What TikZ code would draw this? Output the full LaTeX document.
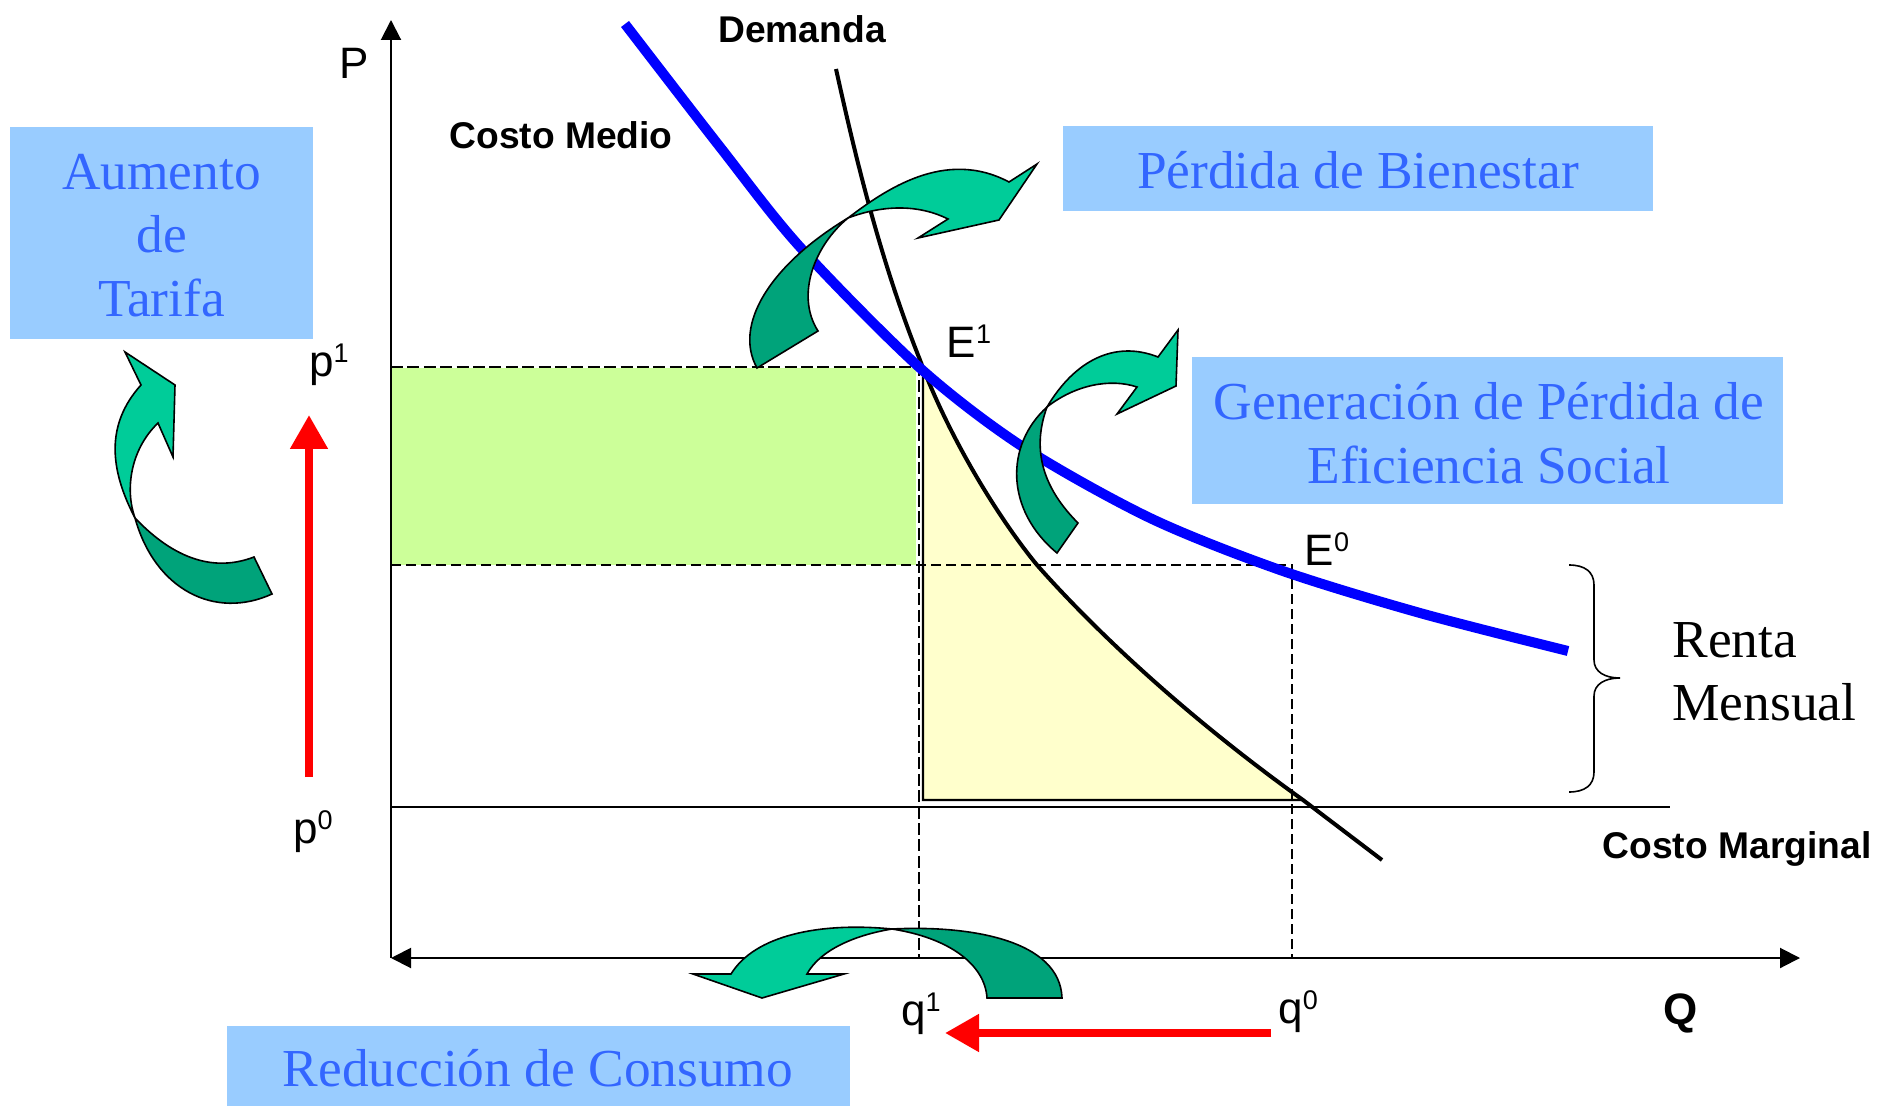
\documentclass[tikz,border=0pt]{standalone}
\usepackage{fontspec}
\setmainfont{Liberation Serif}
\setsansfont{Liberation Sans}
\usetikzlibrary{arrows.meta}

\definecolor{boxblue}{RGB}{153,204,255}
\definecolor{textblue}{RGB}{51,102,255}
\definecolor{lightarrow}{RGB}{0,204,153}
\definecolor{darkarrow}{RGB}{0,163,122}
\definecolor{surplus}{RGB}{204,255,153}
\definecolor{loss}{RGB}{255,255,204}

\newcommand{\expo}[1]{\raisebox{7pt}{\fontsize{13.5}{13.5}\selectfont #1}}

\tikzset{
	infotext/.style={text=textblue, font=\fontsize{26.7}{31.7}\selectfont, align=center, inner sep=0pt},
	axislabel/.style={font=\sffamily\fontsize{22}{26}\selectfont, inner sep=0pt},
	curvename/.style={font=\sffamily\bfseries\fontsize{18.6}{22}\selectfont, inner sep=0pt},
	guidethick/.style={line width=1.2pt, dash pattern=on 6pt off 2.2pt},
	guidethin/.style={line width=0.8pt, dash pattern=on 5pt off 2.5pt},
	redarrow/.style={red, line width=4pt, -{Triangle[length=17pt,width=18pt]}},
	bendlight/.style={fill=lightarrow, draw=black, line width=0.8pt, line join=miter},
	benddark/.style={fill=darkarrow, draw=black, line width=0.8pt, line join=miter}
}

\begin{document}
\begin{tikzpicture}[x=0.5pt,y=-0.5pt]
	\useasboundingbox (0,0) rectangle (1877,1106);

	\coordinate (origin) at (391,958);
	\coordinate (ytop) at (391,20);
	\coordinate (xend) at (1800,958);
	\coordinate (mcleft) at (391,807);
	\coordinate (mcright) at (1670,807);
	\coordinate (p1left) at (391,367);
	\coordinate (p0left) at (391,565);
	\coordinate (E1) at (919,367);
	\coordinate (E0) at (1292,565);
	\coordinate (q1low) at (919,958);
	\coordinate (q0low) at (1292,958);

	% shaded areas
	\fill[surplus] (391,368) rectangle (916,565);
	\draw[fill=loss, line width=1.2pt] (923,368) -- (923,800) -- (1303,800)
		.. controls (1180,712) and (1090,625) .. (1037,565)
		.. controls (1000,520) and (950,440) .. (920,360) -- cycle;

	% text boxes
	\fill[boxblue] (10,127) rectangle (313,339);
	\fill[boxblue] (1063,126) rectangle (1653,211);
	\fill[boxblue] (1192,357) rectangle (1783,504);
	\fill[boxblue] (227,1026) rectangle (850,1106);
	\node[infotext] (tarifa) at (161.5,235.4) {Aumento\\de\\Tarifa};
	\node[infotext] (bienestar) at (1358,170) {Pérdida de Bienestar};
	\node[infotext] (eficiencia) at (1489,433) {Generación de Pérdida de\\Eficiencia Social};
	\node[infotext] (consumo) at (538,1068.4) {Reducción de Consumo};

	% axes
	\draw[line width=1pt, -{Triangle[length=10pt,width=10pt]}] (origin) -- (ytop);
	\draw[line width=1pt, {Triangle[length=10pt,width=10pt]}-{Triangle[length=10pt,width=10pt]}] (origin) -- (xend);
	\draw[line width=1pt] (mcleft) -- (mcright);
	\draw[guidethick] (p1left) -- (E1) -- (q1low);
	\draw[guidethin] (p0left) -- (E0) -- (q0low);

	% curves
	\draw[line width=2pt] (836,69) .. controls (855,155) and (880,260) .. (920,360)
		.. controls (950,440) and (1000,520) .. (1037,565)
		.. controls (1090,625) and (1180,712) .. (1303,800) -- (1382,860);
	\draw[blue, line width=5pt] plot[smooth] coordinates {(625,24) (720,147) (800,247) (920,368) (1023,447) (1150,518) (1280,570) (1420,613) (1568,651)};

	% bent arrows
	\draw[benddark] (757,368) .. controls (733,325) and (770,265) .. (848,218)
		.. controls (815,245) and (795,295) .. (818,331) -- cycle;
	\draw[bendlight] (848,218) .. controls (885,190) and (945,148) .. (1009,182)
		-- (1037,164) -- (999,220) -- (918,238) -- (948,219)
		.. controls (920,205) and (885,204) .. (848,218) -- cycle;

	\draw[benddark] (1057,553) .. controls (1005,510) and (1005,445) .. (1047,407)
		.. controls (1035,440) and (1035,480) .. (1078,523) -- cycle;
	\draw[bendlight] (1047,407) .. controls (1075,360) and (1115,340) .. (1158,357)
		-- (1178,330) -- (1176,386) -- (1117,414) -- (1137,387)
		.. controls (1110,378) and (1075,385) .. (1047,407) -- cycle;

	\draw[benddark] (135,518) .. controls (155,590) and (215,620) .. (272,594)
		-- (254,557) .. controls (215,572) and (175,560) .. (135,518) -- cycle;
	\draw[bendlight] (135,518) .. controls (110,470) and (105,425) .. (141,385)
		-- (125,352) -- (175,385) -- (173,457) -- (158,423)
		.. controls (130,450) and (125,490) .. (135,518) -- cycle;

	\draw[benddark] (1062,998) .. controls (1060,940) and (970,925) .. (892,929)
		.. controls (950,938) and (985,965) .. (987,998) -- cycle;
	\draw[bendlight] (892,929) .. controls (820,922) and (755,935) .. (731,974)
		-- (693,974) -- (762,998) -- (844,974) -- (807,974)
		.. controls (820,950) and (855,935) .. (892,929) -- cycle;

	% red arrows
	\coordinate (p0arrow) at (309,777);
	\coordinate (p1arrow) at (309,415);
	\coordinate (q0arrow) at (1271,1033);
	\coordinate (q1arrow) at (945,1033);
	\draw[redarrow] (p0arrow) -- (p1arrow);
	\draw[redarrow] (q0arrow) -- (q1arrow);

	% brace
	\draw[line width=0.8pt] (1569,565) .. controls (1585,565) and (1594,572) .. (1594,585)
		-- (1594,660) .. controls (1594,672) and (1605,678) .. (1620,678)
		.. controls (1605,678) and (1594,684) .. (1594,696)
		-- (1594,772) .. controls (1594,785) and (1585,792) .. (1569,792);

	% labels
	\node[axislabel] (Plabel) at (354,63) {P};
	\node[axislabel] (p1label) at (329,365) {p\expo{1}};
	\node[axislabel] (p0label) at (313,832) {p\expo{0}};
	\node[axislabel] (E1label) at (969,341) {E\expo{1}};
	\node[axislabel] (E0label) at (1327,549) {E\expo{0}};
	\node[axislabel] (q1label) at (921,1014) {q\expo{1}};
	\node[axislabel] (q0label) at (1298,1012) {q\expo{0}};
	\node[font=\sffamily\bfseries\fontsize{22}{26}\selectfont, inner sep=0pt] (Qlabel) at (1681,1013) {Q};
	\node[curvename] (demanda) at (802,29) {Demanda};
	\node[curvename] (medio) at (561,135) {Costo Medio};
	\node[curvename] (marginal) at (1737,848.5) {Costo Marginal};
	\node[font=\fontsize{26.7}{31.7}\selectfont, align=left, inner sep=0pt, anchor=west] (renta) at (1672,672) {Renta\\Mensual};
\end{tikzpicture}
\end{document}
